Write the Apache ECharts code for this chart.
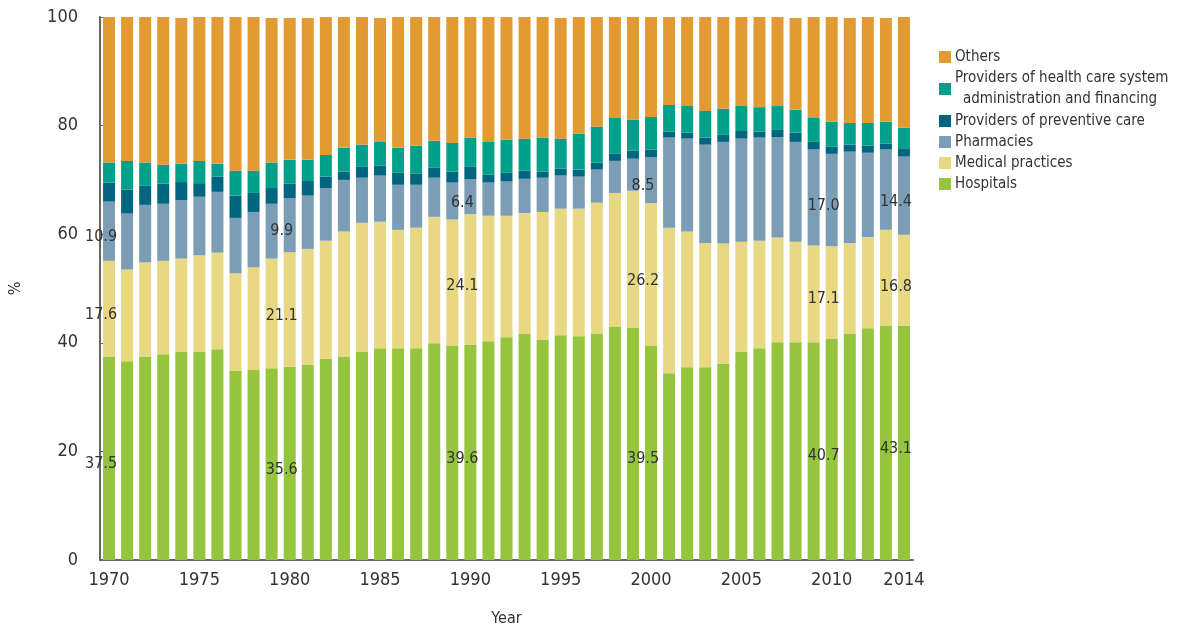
<!DOCTYPE html>
<html>
<head>
<meta charset="utf-8">
<title>Health expenditure by provider</title>
<script src="https://cdn.jsdelivr.net/npm/echarts@6/dist/echarts.min.js"></script>
<style>
  html, body { margin: 0; padding: 0; background: #fff; }
  #chart { width: 1177px; height: 632px; }
</style>
</head>
<body>
<div id="chart"></div>
<script>
// 年份（横轴类目）
const years = [1970, 1971, 1972, 1973, 1974, 1975, 1976, 1977, 1978, 1979,
  1980, 1981, 1982, 1983, 1984, 1985, 1986, 1987, 1988, 1989,
  1990, 1991, 1992, 1993, 1994, 1995, 1996, 1997, 1998, 1999,
  2000, 2001, 2002, 2003, 2004, 2005, 2006, 2007, 2008, 2009,
  2010, 2011, 2012, 2013, 2014]
// 显示数值标签的年份
const labelYears = [1970, 1980, 1990, 2000, 2010, 2014]

// 各部分占比 (%)
const hospitals = [37.5, 36.6, 37.5, 37.9, 38.4, 38.3, 38.8, 34.8, 35.0, 35.3,
  35.6, 35.9, 37.0, 37.5, 38.4, 39.0, 39.0, 39.0, 39.9, 39.4,
  39.6, 40.3, 41.0, 41.6, 40.5, 41.4, 41.2, 41.7, 43.0, 42.8,
  39.5, 34.4, 35.5, 35.5, 36.2, 38.4, 39.0, 40.1, 40.1, 40.1,
  40.7, 41.6, 42.7, 43.2, 43.1]
const medical = [17.6, 16.9, 17.3, 17.2, 17.1, 17.8, 17.8, 18.0, 18.9, 20.2,
  21.1, 21.4, 21.8, 23.0, 23.7, 23.3, 21.8, 22.2, 23.3, 23.3,
  24.1, 23.1, 22.4, 22.3, 23.6, 23.3, 23.5, 24.1, 24.6, 25.2,
  26.2, 26.8, 25.0, 22.9, 22.1, 20.2, 19.8, 19.3, 18.5, 17.8,
  17.1, 16.8, 16.8, 17.6, 16.8]
const pharmacies = [10.9, 10.3, 10.6, 10.5, 10.8, 10.8, 11.2, 10.2, 10.2, 10.1,
  9.9, 9.8, 9.7, 9.5, 8.3, 8.5, 8.3, 7.9, 7.2, 6.8,
  6.4, 6.1, 6.3, 6.3, 6.3, 6.1, 5.9, 6.1, 5.9, 5.9,
  8.5, 16.6, 17.1, 18.1, 18.7, 19.0, 19.0, 18.5, 18.4, 17.7,
  17.0, 16.8, 15.5, 14.8, 14.4]
const preventive = [3.5, 4.4, 3.5, 3.7, 3.3, 2.5, 2.8, 4.1, 3.5, 2.9,
  2.7, 2.7, 2.1, 1.5, 2.0, 1.8, 2.2, 2.1, 1.9, 2.0,
  2.3, 1.5, 1.6, 1.5, 1.1, 1.3, 1.3, 1.3, 1.3, 1.5,
  1.4, 1.1, 1.1, 1.3, 1.3, 1.4, 1.1, 1.3, 1.7, 1.4,
  1.3, 1.3, 1.3, 1.1, 1.4]
const administration = [3.7, 5.3, 4.3, 3.5, 3.4, 4.1, 2.4, 4.6, 4.1, 4.7,
  4.4, 3.9, 4.0, 4.4, 4.1, 4.4, 4.6, 5.1, 4.9, 5.3,
  5.4, 6.0, 6.1, 5.9, 6.3, 5.5, 6.6, 6.6, 6.6, 5.7,
  6.0, 4.9, 4.9, 4.9, 4.8, 4.6, 4.5, 4.4, 4.2, 4.4,
  4.6, 4.0, 4.2, 4.0, 3.9]
const others = [26.8, 26.5, 26.8, 27.2, 26.8, 26.5, 27.0, 28.3, 28.3, 26.6,
  26.1, 26.1, 25.4, 24.1, 23.5, 22.8, 24.1, 23.7, 22.8, 23.2,
  22.2, 23.0, 22.6, 22.4, 22.2, 22.2, 21.5, 20.2, 18.6, 18.9,
  18.4, 16.2, 16.4, 17.3, 16.9, 16.4, 16.6, 16.4, 16.9, 18.6,
  19.3, 19.3, 19.5, 19.1, 20.4]

const adminName = 'Providers of health care system administration and financing'
const FONT = '"DejaVu Sans Condensed", "DejaVu Sans", sans-serif'
const TEXT_COLOR = '#333'

// 给需要的年份加上数值标签
function withLabels (values) {
  return values.map((v, i) => {
    return labelYears.includes(years[i]) ? { value: v, label: { show: true } } : v
  })
}

function barSeries (name, values, color, labelled) {
  return {
    name: name,
    type: 'bar',
    stack: 'total',
    barWidth: 12,
    data: labelled ? withLabels(values) : values,
    itemStyle: { color: color },
    label: {
      show: false,
      position: 'inside',
      offset: [-8, 6],
      color: TEXT_COLOR,
      fontFamily: FONT,
      fontSize: 16,
      formatter: p => p.value.toFixed(1)
    }
  }
}

const chart = echarts.init(document.getElementById('chart'))
const option = {
  animation: false,
  textStyle: { fontFamily: FONT },
  grid: { left: 100, right: 264, top: 17, bottom: 70 },
  legend: {
    orient: 'vertical',
    left: 934,
    top: 42,
    icon: 'rect',
    itemWidth: 12,
    itemHeight: 12,
    itemGap: 1,
    data: ['Others', adminName, 'Providers of preventive care', 'Pharmacies', 'Medical practices', 'Hospitals'],
    formatter: name => {
      if (name === adminName) {
        return '{a|Providers of health care system}\n{b|administration and financing}'
      }
      return name
    },
    textStyle: {
      color: TEXT_COLOR,
      fontFamily: FONT,
      fontSize: 15,
      lineHeight: 20,
      padding: [0, 0, 0, -1],
      rich: {
        a: { color: TEXT_COLOR, fontFamily: FONT, fontSize: 15, lineHeight: 21 },
        b: { color: TEXT_COLOR, fontFamily: FONT, fontSize: 15, lineHeight: 21, padding: [0, 0, 0, 8] }
      }
    }
  },
  xAxis: {
    type: 'category',
    data: years,
    name: 'Year',
    nameLocation: 'middle',
    nameGap: 51,
    nameTextStyle: { color: TEXT_COLOR, fontSize: 16, fontFamily: FONT },
    axisLine: { lineStyle: { color: '#666', width: 2 } },
    axisTick: { show: false },
    axisLabel: {
      color: TEXT_COLOR,
      fontSize: 18,
      fontFamily: FONT,
      margin: 11,
      interval: (index, value) => {
        const y = Number(value)
        return y % 5 === 0 || y === 2014
      }
    }
  },
  yAxis: {
    type: 'value',
    min: 0,
    max: 100,
    interval: 20,
    name: '%',
    nameLocation: 'middle',
    nameRotate: 90,
    nameGap: 76,
    nameTextStyle: { color: TEXT_COLOR, fontSize: 16, fontFamily: FONT },
    axisLine: { show: true, lineStyle: { color: '#666', width: 2 } },
    axisTick: { show: true, inside: true, length: 4, lineStyle: { color: '#666' } },
    splitLine: { show: false },
    axisLabel: { color: TEXT_COLOR, fontSize: 18, fontFamily: FONT, margin: 22 }
  },
  series: [
    barSeries('Hospitals', hospitals, '#95C43D', true),
    barSeries('Medical practices', medical, '#E8D882', true),
    barSeries('Pharmacies', pharmacies, '#7B9DB5', true),
    barSeries('Providers of preventive care', preventive, '#00657F', false),
    barSeries(adminName, administration, '#00A08A', false),
    barSeries('Others', others, '#E29A33', false)
  ]
}
chart.setOption(option)
</script>
</body>
</html>
